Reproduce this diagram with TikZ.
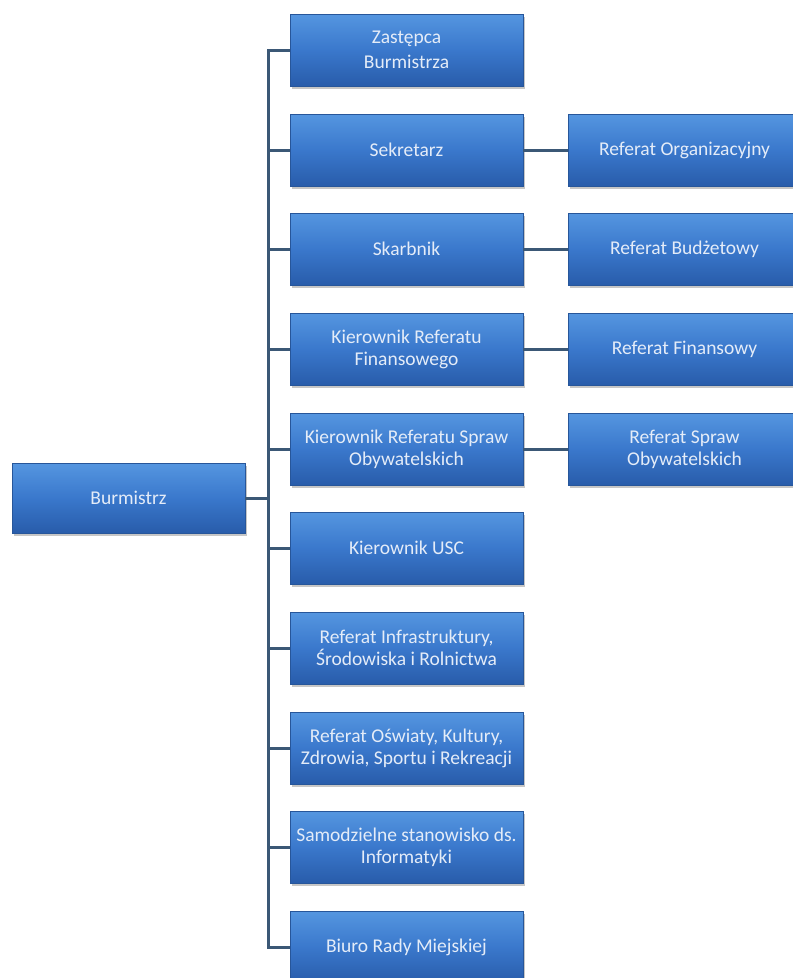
\documentclass[tikz,border=0pt]{standalone}
\usepackage{fontspec}
\setmainfont{Carlito}
\usetikzlibrary{shadows}
\definecolor{boxtop}{HTML}{5596E0}
\definecolor{boxmid}{HTML}{3A78CC}
\definecolor{boxbot}{HTML}{285CAA}
\definecolor{boxedge}{HTML}{27569A}
\definecolor{boxtext}{HTML}{E4ECF8}
\definecolor{linecol}{HTML}{3B5876}
\tikzset{
  orgbox/.style={rectangle, minimum width=233pt, minimum height=72pt, inner sep=2pt,
    top color=boxtop, bottom color=boxbot, middle color=boxmid,
    draw=boxedge, line width=0.6pt, text=boxtext, align=center,
    font=\fontsize{19.5}{22}\selectfont,
    drop shadow={shadow xshift=1.5pt, shadow yshift=-2.5pt, opacity=0.45}},
  conn/.style={draw=linecol, line width=3pt}
}
\begin{document}
\begin{tikzpicture}[x=1pt,y=-1pt]
\useasboundingbox (0,0) rectangle (793,978);
\node[orgbox, minimum height=70pt] (burm) at (128.5,498) {Burmistrz};
\node[orgbox, font=\fontsize{19.5}{25}\selectfont] (zast) at (406.5,50) {Zastępca\\Burmistrza};
\node[orgbox] (sekr) at (406.5,150) {Sekretarz};
\node[orgbox] (skarb) at (406.5,249) {Skarbnik};
\node[orgbox] (krf) at (406.5,349) {Kierownik Referatu\\Finansowego};
\node[orgbox] (krs) at (406.5,449) {Kierownik Referatu Spraw\\Obywatelskich};
\node[orgbox] (usc) at (406.5,548) {Kierownik USC};
\node[orgbox] (infra) at (406.5,648) {Referat Infrastruktury,\\Środowiska i Rolnictwa};
\node[orgbox] (osw) at (406.5,748) {Referat Oświaty, Kultury,\\Zdrowia, Sportu i Rekreacji};
\node[orgbox] (inf) at (406.5,847) {Samodzielne stanowisko ds.\\Informatyki};
\node[orgbox] (biuro) at (406.5,947) {Biuro Rady Miejskiej};
\node[orgbox] (rorg) at (684.5,150) {Referat Organizacyjny};
\node[orgbox] (rbud) at (684.5,249) {Referat Budżetowy};
\node[orgbox] (rfin) at (684.5,349) {Referat Finansowy};
\node[orgbox] (rspr) at (684.5,449) {Referat Spraw\\Obywatelskich};
\coordinate (bustop) at (268,50);
\coordinate (busbot) at (268,947);
\draw[conn] (zast.west) -- (bustop) -- (busbot) -- (biuro.west);
\draw[conn] (burm.east) -- (burm.east -| bustop);
\foreach \n in {sekr,skarb,krf,krs,usc,infra,osw,inf}
  \draw[conn] (\n.west) -- (\n.west -| bustop);
\draw[conn] (sekr.east) -- (rorg.west);
\draw[conn] (skarb.east) -- (rbud.west);
\draw[conn] (krf.east) -- (rfin.west);
\draw[conn] (krs.east) -- (rspr.west);
\end{tikzpicture}
\end{document}
